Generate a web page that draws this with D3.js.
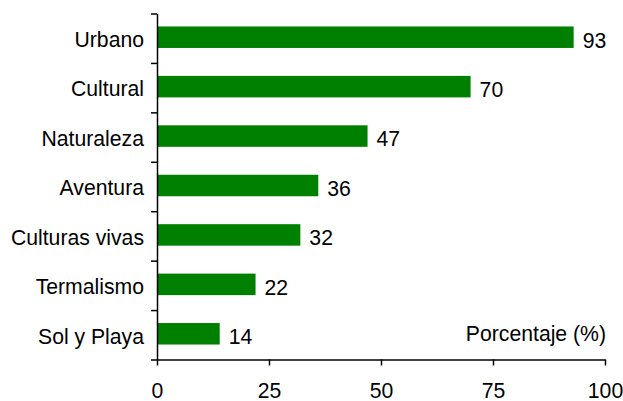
<!DOCTYPE html>
<html>
<head>
<meta charset="utf-8">
<script src="https://cdn.jsdelivr.net/npm/d3@7"></script>
<style>
  body { margin: 0; background: #fff; }
  text { font-family: "Liberation Sans", Arial, sans-serif; fill: #000; }
</style>
</head>
<body>
<script>
// categories and values
const categories = ["Urbano", "Cultural", "Naturaleza", "Aventura", "Culturas vivas", "Termalismo", "Sol y Playa"];
const values = [93, 70, 47, 36, 32, 22, 14];
const xTicks = [0, 25, 50, 75, 100];
const axisTitle = "Porcentaje (%)";

const width = 623, height = 401;
const plotLeft = 157, plotRight = 605, plotTop = 13.5, plotBottom = 359.5;
const fontSize = 21.2;

const svg = d3.select("body")
    .append("svg")
    .attr("width", width)
    .attr("height", height);

const x = d3.scaleLinear()
    .domain([0, 100])
    .range([plotLeft, plotRight]);

const y = d3.scaleBand()
    .domain(categories)
    .range([plotTop, plotBottom])
    .paddingInner(0.565)
    .paddingOuter(0.2825);

// boundaries between categories carry the tick marks
const yEdges = d3.scaleLinear()
    .domain([0, categories.length])
    .range([plotTop, plotBottom]);

svg.selectAll("rect")
    .data(categories)
    .enter()
    .append("rect")
    .attr("fill", "#008000")
    .attr("x", x(0))
    .attr("y", d => y(d) - 1)
    .attr("width", (d, i) => x(values[i]) - x(0))
    .attr("height", y.bandwidth());

svg.selectAll(".val")
    .data(categories)
    .enter()
    .append("text")
    .attr("class", "val")
    .attr("x", (d, i) => x(values[i]) + 9)
    .attr("y", d => y(d) + y.bandwidth() / 2 + 2)
    .attr("dy", "0.35em")
    .style("font-size", fontSize + "px")
    .text((d, i) => values[i]);

// y axis: line + boundary ticks
svg.append("g")
    .attr("transform", `translate(${plotLeft},0)`)
    .call(d3.axisLeft(yEdges).tickValues(d3.range(categories.length + 1)).tickFormat("").tickSize(6).tickSizeOuter(0));

// y labels
svg.append("g")
    .attr("transform", `translate(${plotLeft},2)`)
    .call(d3.axisLeft(y).tickSize(0).tickPadding(13))
    .call(g => g.select(".domain").remove())
    .selectAll("text")
    .style("font-size", fontSize + "px");

// x axis
svg.append("g")
    .attr("transform", `translate(0,${plotBottom})`)
    .call(d3.axisBottom(x).tickValues(xTicks).tickSize(6).tickSizeOuter(0).tickPadding(17))
    .selectAll("text")
    .style("font-size", fontSize + "px");

svg.selectAll(".domain, .tick line")
    .attr("stroke", "#000")
    .attr("stroke-width", 1.5);

svg.append("text")
    .attr("x", 606)
    .attr("y", 341)
    .attr("text-anchor", "end")
    .style("font-size", fontSize + "px")
    .text(axisTitle);
</script>
</body>
</html>
